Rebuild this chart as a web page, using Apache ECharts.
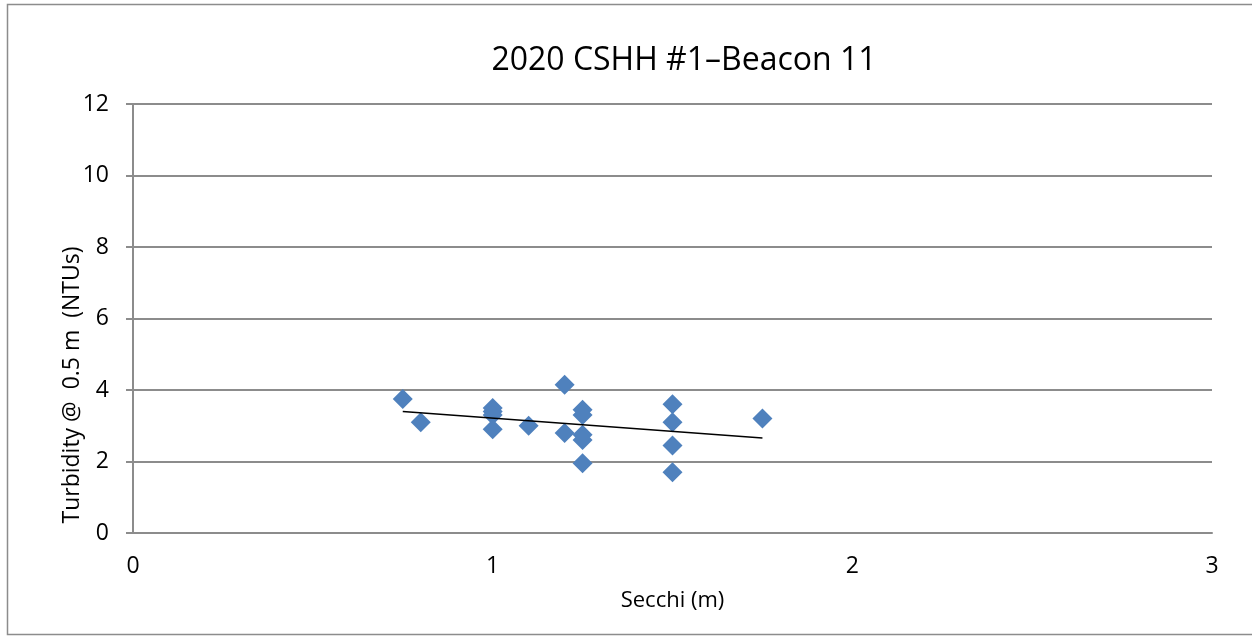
<!DOCTYPE html>
<html>
<head>
<meta charset="utf-8">
<title>2020 CSHH #1–Beacon 11</title>
<script src="https://cdn.jsdelivr.net/npm/echarts@6/dist/echarts.min.js"></script>
<style>
  html, body { margin: 0; padding: 0; background: #fff; }
  #main { width: 1252px; height: 637px; }
</style>
</head>
<body>
<div id="main"></div>
<script>
// secchi depth (m) and turbidity (NTUs)
var secchi = [0.75, 0.8, 1, 1, 1, 1, 1.1, 1.2, 1.2, 1.25, 1.25, 1.25, 1.25, 1.25, 1.5, 1.5, 1.5, 1.5, 1.75];
var turbidity = [3.75, 3.1, 3.5, 3.4, 3.3, 2.9, 3.0, 4.15, 2.8, 3.45, 3.3, 2.75, 2.6, 1.95, 3.6, 3.1, 2.45, 1.7, 3.2];
var xTicks = [0, 1, 2, 3];
var yTicks = [0, 2, 4, 6, 8, 10, 12];

var chart = echarts.init(document.getElementById('main'));

// least squares line, the way the spreadsheet draws its trendline
var n = secchi.length, sx = 0, sy = 0, sxx = 0, sxy = 0;
for (var i = 0; i < n; i++) {
  sx += secchi[i]; sy += turbidity[i];
  sxx += secchi[i] * secchi[i]; sxy += secchi[i] * turbidity[i];
}
var slope = (n * sxy - sx * sy) / (n * sxx - sx * sx);
var icpt = (sy - slope * sx) / n;
var xMin = Math.min.apply(null, secchi), xMax = Math.max.apply(null, secchi);

var points = secchi.map(function (x, i) { return [x, turbidity[i]]; });
var font = '"Open Sans", "Noto Sans", sans-serif';

var option = {
  backgroundColor: '#fff',
  animation: false,
  title: {
    text: '2020 CSHH #1–Beacon 11',
    left: 679, top: 40, textAlign: 'center',
    textStyle: { fontFamily: font, fontSize: 32, fontWeight: 'normal', color: '#000' }
  },
  graphic: [{
    type: 'rect', silent: true,
    shape: { x: 7.5, y: 4.5, width: 1260, height: 630 },
    style: { fill: null, stroke: '#8c8c8c', lineWidth: 1.5 }
  }, {
    // y axis title sits a bit below the middle of the axis in the original
    type: 'text', silent: true,
    x: 72, y: 385, rotation: Math.PI / 2,
    style: {
      text: 'Turbidity @  0.5 m  (NTUs)',
      fontFamily: font, fontSize: 23, fill: '#000',
      align: 'center', verticalAlign: 'middle'
    }
  }],
  grid: { left: 133, right: 40, top: 104, bottom: 104 },
  xAxis: {
    type: 'value', min: xTicks[0], max: xTicks[xTicks.length - 1], interval: 1,
    name: 'Secchi (m)', nameLocation: 'middle', nameGap: 57,
    nameTextStyle: { fontFamily: font, fontSize: 22, color: '#000' },
    axisLine: { show: true, onZero: false, lineStyle: { color: '#8c8c8c', width: 2 } },
    axisTick: { show: false },
    axisLabel: { fontFamily: font, fontSize: 23, color: '#000', margin: 22 },
    splitLine: { show: false }
  },
  yAxis: {
    type: 'value', min: yTicks[0], max: yTicks[yTicks.length - 1], interval: 2,
    axisLine: { show: true, lineStyle: { color: '#8c8c8c', width: 2 } },
    axisTick: { show: true, length: 7, lineStyle: { color: '#8c8c8c', width: 2 } },
    axisLabel: { fontFamily: font, fontSize: 23, color: '#000', margin: 24 },
    splitLine: { show: true, lineStyle: { color: '#8c8c8c', width: 2 } }
  },
  series: [{
    type: 'scatter',
    data: points,
    symbol: 'diamond',
    symbolSize: [20, 20],
    itemStyle: { color: '#4f81bd', opacity: 1 },
    z: 3
  }, {
    type: 'line',
    data: [[xMin, icpt + slope * xMin], [xMax, icpt + slope * xMax]],
    symbol: 'none',
    lineStyle: { color: '#000', width: 1.5 },
    z: 4
  }]
};
chart.setOption(option);
</script>
</body>
</html>
